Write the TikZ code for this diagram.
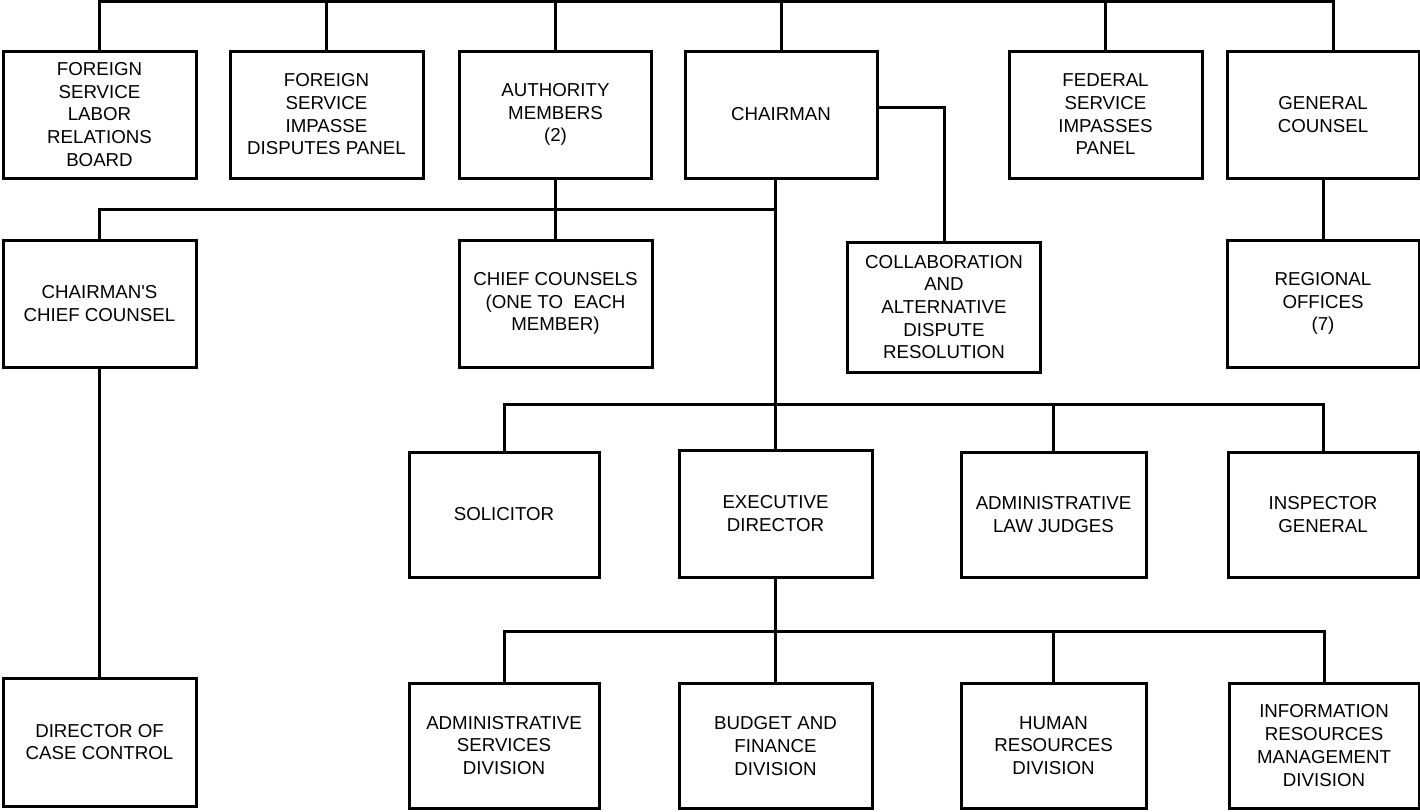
\documentclass[tikz,border=0pt]{standalone}
\usepackage{fontspec}
\newfontfamily\arialfont{Liberation Sans}
\tikzset{
  box/.style={draw=black, line width=3pt, align=center, inner sep=0pt,
    font=\arialfont\fontsize{18.7pt}{22.7pt}\selectfont, text=black},
  conn/.style={draw=black, line width=3pt}
}
\begin{document}
\begin{tikzpicture}[x=1pt,y=-1pt]
\useasboundingbox[fill=white] (0,0) rectangle (1420,811);
% row 1
\node[box, minimum width=193, minimum height=127] (fslrb) at (99.5,114.5) {FOREIGN\\SERVICE\\LABOR\\RELATIONS\\BOARD};
\node[box, minimum width=193, minimum height=127] (fsidp) at (326.5,114.5) {FOREIGN\\SERVICE\\IMPASSE\\DISPUTES PANEL};
\node[box, minimum width=192, minimum height=127] (auth) at (555.5,114.5) {AUTHORITY\\MEMBERS\\(2)};
\node[box, minimum width=192, minimum height=127] (chair) at (781,114.5) {CHAIRMAN};
\node[box, minimum width=193, minimum height=127] (fsip) at (1105.5,114.5) {FEDERAL\\SERVICE\\IMPASSES\\PANEL};
\node[box, minimum width=192, minimum height=127] (gc) at (1323,114.5) {GENERAL\\COUNSEL};
% row 2
\node[box, minimum width=193, minimum height=127] (ccc) at (99.5,303.5) {CHAIRMAN\textquotesingle S\\CHIEF COUNSEL};
\node[box, minimum width=193, minimum height=127] (cc) at (555.5,303.5) {CHIEF COUNSELS\\(ONE TO\ \ EACH\\MEMBER)};
\node[box, minimum width=193, minimum height=130] (collab) at (944,307) {COLLABORATION\\AND\\ALTERNATIVE\\DISPUTE\\RESOLUTION};
\node[box, minimum width=192, minimum height=127] (reg) at (1323,303.5) {REGIONAL\\OFFICES\\(7)};
% row 3
\node[box, minimum width=190, minimum height=125] (sol) at (504,514.5) {SOLICITOR};
\node[box, minimum width=193, minimum height=127] (exec) at (775.5,513.5) {EXECUTIVE\\DIRECTOR};
\node[box, minimum width=185, minimum height=125] (alj) at (1053.5,514.5) {ADMINISTRATIVE\\LAW JUDGES};
\node[box, minimum width=190, minimum height=125] (ig) at (1323,514.5) {INSPECTOR\\GENERAL};
% row 4
\node[box, minimum width=193, minimum height=128] (dcc) at (99.5,742) {DIRECTOR OF\\CASE CONTROL};
\node[box, minimum width=190, minimum height=125] (asd) at (504,745.5) {ADMINISTRATIVE\\SERVICES\\DIVISION};
\node[box, minimum width=193, minimum height=125] (bfd) at (775.5,746) {BUDGET AND\\FINANCE\\DIVISION};
\node[box, minimum width=185, minimum height=125] (hrd) at (1053.5,745.5) {HUMAN\\RESOURCES\\DIVISION};
\node[box, minimum width=190, minimum height=125] (irm) at (1324,745.5) {INFORMATION\\RESOURCES\\MANAGEMENT\\DIVISION};
% bus levels
\coordinate (bus1) at (0,1.5);
\coordinate (bus2) at (0,209);
\coordinate (bus3) at (0,404);
\coordinate (bus4) at (0,631);
\coordinate (gctop) at ([xshift=10pt]gc.north);
\coordinate (chairr) at ([yshift=7.5pt]chair.east);
% top bus
\draw[conn] (fslrb.north) -- (fslrb.north |- bus1) -- (gctop |- bus1) -- (gctop);
\foreach \n in {fsidp,auth,chair,fsip} \draw[conn] (\n.north) -- (\n.north |- bus1);
% chairman to collaboration
\draw[conn] (chairr) -| (collab.north);
% chairman down to executive director
\draw[conn] (chair.south -| exec.north) -- (exec.north);
% row 2 bus
\draw[conn] (ccc.north) -- (ccc.north |- bus2) -- (exec.north |- bus2);
\draw[conn] (auth.south -| cc.north) -- (cc.north);
\draw[conn] (gc.south) -- (reg.north);
\draw[conn] (ccc.south) -- (dcc.north);
% row 3 bus
\draw[conn] (sol.north) -- (sol.north |- bus3) -- (ig.north |- bus3) -- (ig.north);
\draw[conn] (alj.north) -- (alj.north |- bus3);
% row 4 bus
\draw[conn] (asd.north) -- (asd.north |- bus4) -- (irm.north |- bus4) -- (irm.north);
\draw[conn] (exec.south) -- (bfd.north);
\draw[conn] (hrd.north) -- (hrd.north |- bus4);
\end{tikzpicture}
\end{document}
